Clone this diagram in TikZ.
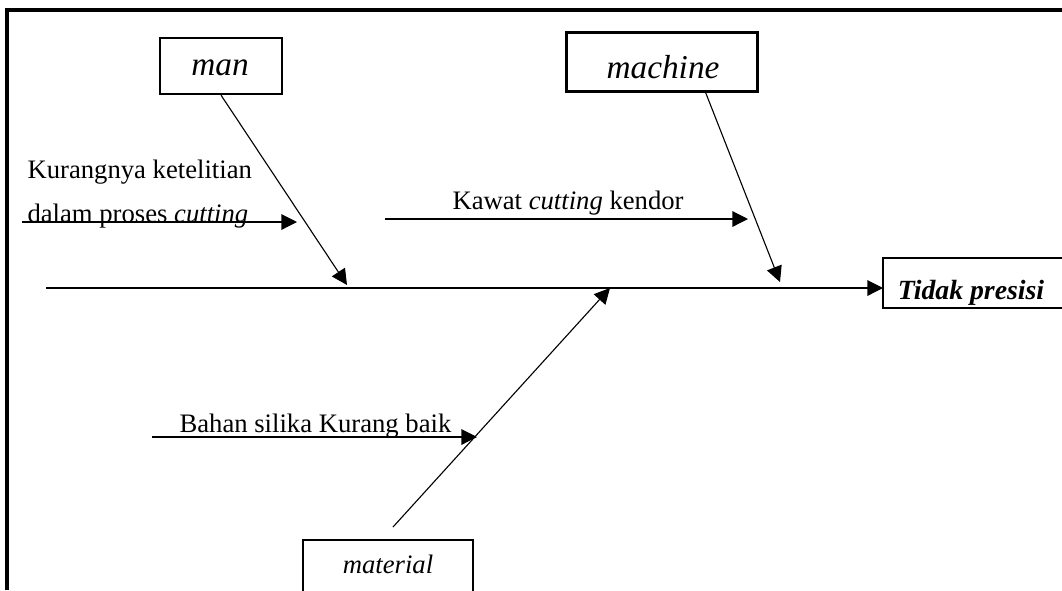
\documentclass[tikz,border=0pt]{standalone}
\usepackage{fontspec}
\setmainfont{Liberation Serif}
\usetikzlibrary{arrows.meta}

\begin{document}
\begin{tikzpicture}[x=0.45pt, y=-0.45pt, >={Triangle[length=7pt,width=7pt]}, line width=0.5pt, font=\fontsize{12}{14}\selectfont]
      \useasboundingbox (0,0) rectangle (1062,590);
      \clip (0,0) rectangle (1062,590);
      \draw[line width=1.4pt] (7,590) -- (7,10) -- (1062,10);

      % boxes
      \node[draw, line width=1pt, inner sep=0pt, minimum width=54.9pt, minimum height=25.2pt] (man) at (221,66) {};
      \node[draw, line width=1pt, inner sep=0pt, minimum width=86pt, minimum height=26.6pt] (machine) at (662,62) {};
      \node[draw, line width=1pt, inner sep=0pt, minimum width=76.5pt, minimum height=31.5pt] (material) at (388,575) {};
      \node[draw, inner sep=0pt, minimum width=90pt, minimum height=22.5pt] (effect) at (983,283) {};

      \node[anchor=base, inner sep=0pt, font=\fontsize{15}{18}\selectfont\itshape] (manlabel) at (220,75) {man};
      \node[anchor=base, inner sep=0pt, font=\fontsize{15}{18}\selectfont\itshape] (machinelabel) at (663,78) {machine};
      \node[anchor=base, inner sep=0pt, font=\fontsize{12}{14}\selectfont\itshape] (materiallabel) at (388,573) {material};
      \node[anchor=base, inner sep=0pt, font=\fontsize{12.5}{14}\selectfont\bfseries\itshape] (effectlabel) at (971,299) {Tidak presisi};

      \coordinate (spine) at (46,288);
      \coordinate (head) at (883,288);
      \coordinate (m1) at (347,285);
      \coordinate (mc0) at (705,91);
      \coordinate (mc1) at (780,282);
      \coordinate (mt0) at (393,527);
      \coordinate (mt1) at (610,288);

      \draw[->] (spine) -- (head);
      \draw[->] (man.south) -- (m1);
      \draw[->] (mc0) -- (mc1);
      \draw[->] (mt0) -- (mt1);

      \node[anchor=base west, inner sep=0pt] (c1a) at (27,178) {Kurangnya ketelitian};
      \node[anchor=base west, inner sep=0pt] (c1b) at (27,222) {dalam proses \textit{cutting}};
      \node[anchor=base west, inner sep=0pt] (c2) at (452,209) {Kawat \textit{cutting} kendor};
      \node[anchor=base west, inner sep=0pt] (c3) at (179,432) {Bahan silika Kurang baik};

      \coordinate (s1) at (22,222);
      \coordinate (t1) at (297,222);
      \coordinate (s2) at (385,219);
      \coordinate (t2) at (748,219);
      \coordinate (s3) at (152,437);
      \coordinate (t3) at (477,437);

      \draw[->] (s1) -- (t1);
      \draw[->] (s2) -- (t2);
      \draw[->] (s3) -- (t3);
\end{tikzpicture}
\end{document}
